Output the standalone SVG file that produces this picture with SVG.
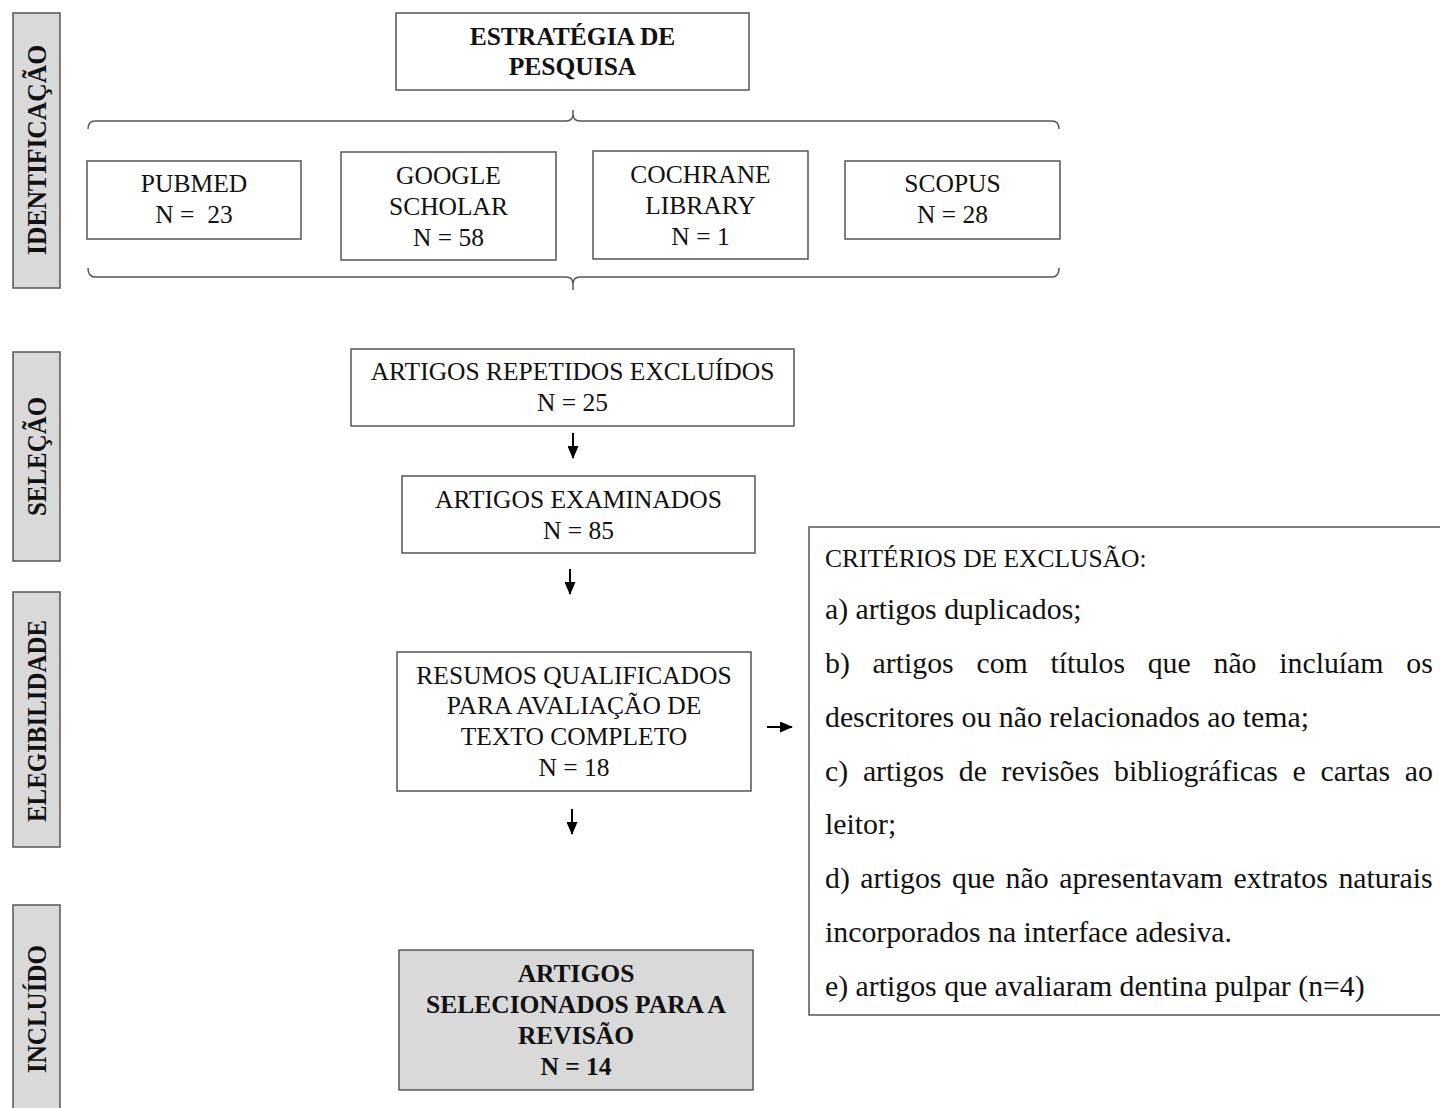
<svg xmlns="http://www.w3.org/2000/svg" width="1440" height="1108" viewBox="0 0 1440 1108">
<defs>
<style>
text{font-family:"Liberation Serif","Times New Roman",serif;fill:#111;}
.box{fill:#fff;stroke:#555;stroke-width:1.5;}
.gray{fill:#d9d9d9;stroke:#555;stroke-width:1.5;}
.t{font-size:25.5px;text-anchor:middle;}
.b{font-weight:bold;}
.side{font-size:27px;font-weight:bold;text-anchor:middle;}
.ex{font-size:29.8px;}
.exh{font-size:25.5px;}
.conn{fill:none;stroke:#555;stroke-width:1.5;}
.arr{fill:none;stroke:#000;stroke-width:2;marker-end:url(#ah);}
</style>
<marker id="ah" viewBox="0 0 13 11" refX="12" refY="5.5" markerWidth="13" markerHeight="11" markerUnits="userSpaceOnUse" orient="auto">
<path d="M0,0 L13,5.5 L0,11 z" fill="#000"/>
</marker>
</defs>
<rect width="1440" height="1108" fill="#fff"/>

<g id="side-identificacao">
<rect class="gray" x="13" y="13" width="47" height="275"/>
<text class="side" transform="translate(46,150) rotate(-90)" textLength="210" lengthAdjust="spacingAndGlyphs">IDENTIFICAÇÃO</text>
</g>
<g id="side-selecao">
<rect class="gray" x="13" y="352" width="47" height="209"/>
<text class="side" transform="translate(46,456.5) rotate(-90)" textLength="119" lengthAdjust="spacingAndGlyphs">SELEÇÃO</text>
</g>
<g id="side-elegibilidade">
<rect class="gray" x="13" y="592" width="47" height="255"/>
<text class="side" transform="translate(46,721) rotate(-90)" textLength="202" lengthAdjust="spacingAndGlyphs">ELEGIBILIDADE</text>
</g>
<g id="side-incluido">
<rect class="gray" x="13" y="905" width="47" height="210"/>
<text class="side" transform="translate(46,1009) rotate(-90)" textLength="128" lengthAdjust="spacingAndGlyphs">INCLUÍDO</text>
</g>

<g id="estrategia">
<rect class="box" x="396" y="13" width="353" height="77"/>
<text class="t b" x="572.5" y="45">ESTRATÉGIA DE</text>
<text class="t b" x="572.5" y="75">PESQUISA</text>
</g>

<g id="pubmed">
<rect class="box" x="87" y="161" width="214" height="78"/>
<text class="t" x="194" y="192">PUBMED</text>
<text class="t" x="194" y="223" xml:space="preserve">N =  23</text>
</g>
<g id="google">
<rect class="box" x="341" y="152" width="215" height="108"/>
<text class="t" x="448.5" y="184">GOOGLE</text>
<text class="t" x="448.5" y="215">SCHOLAR</text>
<text class="t" x="448.5" y="246">N = 58</text>
</g>
<g id="cochrane">
<rect class="box" x="593" y="151" width="215" height="108"/>
<text class="t" x="700.5" y="183">COCHRANE</text>
<text class="t" x="700.5" y="214">LIBRARY</text>
<text class="t" x="700.5" y="245">N = 1</text>
</g>
<g id="scopus">
<rect class="box" x="845" y="161" width="215" height="78"/>
<text class="t" x="952.5" y="192">SCOPUS</text>
<text class="t" x="952.5" y="223">N = 28</text>
</g>

<g id="repetidos">
<rect class="box" x="351" y="349" width="443" height="77"/>
<text class="t" x="572.5" y="380">ARTIGOS REPETIDOS EXCLUÍDOS</text>
<text class="t" x="572.5" y="411">N = 25</text>
</g>
<g id="examinados">
<rect class="box" x="402" y="476" width="353" height="77"/>
<text class="t" x="578.5" y="508">ARTIGOS EXAMINADOS</text>
<text class="t" x="578.5" y="539">N = 85</text>
</g>
<g id="resumos">
<rect class="box" x="397" y="652" width="354" height="139"/>
<text class="t" x="574" y="684">RESUMOS QUALIFICADOS</text>
<text class="t" x="574" y="714">PARA AVALIAÇÃO DE</text>
<text class="t" x="574" y="745">TEXTO COMPLETO</text>
<text class="t" x="574" y="776">N = 18</text>
</g>
<g id="incluidos">
<rect class="gray" x="399" y="950" width="354" height="140"/>
<text class="t b" x="576" y="982">ARTIGOS</text>
<text class="t b" x="576" y="1013">SELECIONADOS PARA A</text>
<text class="t b" x="576" y="1044">REVISÃO</text>
<text class="t b" x="576" y="1075">N = 14</text>
</g>

<g id="criterios">
<rect class="box" x="809" y="527" width="640" height="488"/>
<text class="exh" x="825" y="567">CRITÉRIOS DE EXCLUSÃO:</text>
<text class="ex" x="825" y="619">a) artigos duplicados;</text>
<text class="ex" x="825" y="673" word-spacing="15.3">b) artigos com títulos que não incluíam os</text>
<text class="ex" x="825" y="727">descritores ou não relacionados ao tema;</text>
<text class="ex" x="825" y="781" word-spacing="7.3">c) artigos de revisões bibliográficas e cartas ao</text>
<text class="ex" x="825" y="834">leitor;</text>
<text class="ex" x="825" y="888" word-spacing="3.1">d) artigos que não apresentavam extratos naturais</text>
<text class="ex" x="825" y="942">incorporados na interface adesiva.</text>
<text class="ex" x="825" y="996">e) artigos que avaliaram dentina pulpar (n=4)</text>
</g>

<g id="connectors">
<path class="conn" d="M88,129 Q88,121 95,121 H566 Q573,121 573,114 V110 M573,114 Q573,121 580,121 H1052 Q1059,121 1059,129"/>
<path class="conn" d="M88,268 Q88,277 95,277 H566 Q573,277 573,284 V290 M573,284 Q573,277 580,277 H1052 Q1059,277 1059,268"/>
<line class="arr" x1="573" y1="433" x2="573" y2="458"/>
<line class="arr" x1="570" y1="569" x2="570" y2="594"/>
<line class="arr" x1="572" y1="809" x2="572" y2="834"/>
<line class="arr" x1="767" y1="727" x2="792" y2="727"/>
</g>
</svg>
